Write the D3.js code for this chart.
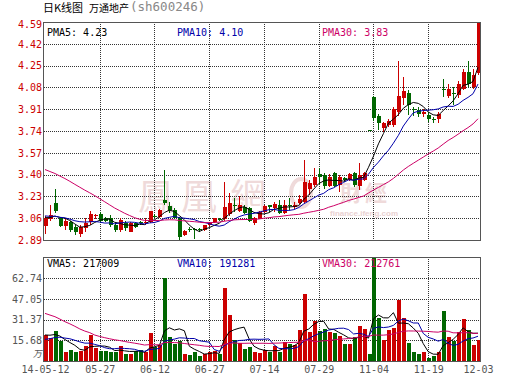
<!DOCTYPE html>
<html><head><meta charset="utf-8">
<script src="https://cdn.jsdelivr.net/npm/d3@7"></script>
<style>body{margin:0;background:#fff}svg{display:block}</style>
</head><body><svg id="c" width="530" height="391"></svg>
<script>
// ---- data ----
const dates = ["05-12","05-13","05-14","05-15","05-16","05-19","05-20","05-21","05-22","05-23","05-26","05-27","05-28","05-29","05-30",
"06-03","06-04","06-05","06-06","06-09","06-10","06-11","06-12","06-13","06-16","06-17","06-18","06-19","06-20","06-23","06-24","06-25","06-26","06-27","06-30",
"07-01","07-02","07-03","07-04","07-07","07-08","07-09","07-10","07-11","07-14","07-15","07-16","07-17","07-18","07-21","07-22","07-23","07-24","07-25","07-28","07-29","07-30","07-31",
"08-01","08-04","08-05","08-06","08-07","08-08","08-11",
"11-03","11-04","11-05","11-06","11-07","11-10","11-11","11-12","11-13","11-14","11-17","11-18","11-19","11-20","11-21","11-24","11-25","11-26","11-27","11-28","12-01","12-02","12-03"];
const open = [3.00,3.055,3.175,3.06,3.00,3.03,2.99,2.94,2.98,3.03,
3.075,3.09,3.06,3.06,3.01,2.97,3.025,2.955,3.02,3.03,
3.02,3.033,3.08,3.072,3.20,3.155,3.125,3.06,2.93,2.975,
2.975,2.975,2.968,3.01,3.033,3.055,3.05,3.09,3.165,3.12,
3.15,3.14,3.02,3.055,3.11,3.16,3.14,3.163,3.10,3.16,
3.145,3.18,3.19,3.285,3.32,3.405,3.40,3.31,3.41,3.32,
3.37,3.36,3.41,3.31,3.36,3.75,4.005,3.86,3.76,3.785,
3.785,3.89,4.00,4.04,3.91,3.90,3.87,3.867,3.835,3.835,
4.07,4.013,4.04,4.02,4.07,4.20,4.085,4.19];
const close = [3.06,3.085,3.115,3.00,3.04,2.97,2.95,2.99,3.02,3.09,
3.085,3.035,3.04,3.01,2.97,3.045,2.98,3.025,2.995,3.02,
3.03,3.116,3.075,3.124,3.176,3.125,3.06,2.915,2.96,2.97,
2.97,2.965,3.007,3.02,3.059,3.05,3.15,3.175,3.16,3.165,
3.10,3.04,3.06,3.11,3.155,3.15,3.17,3.10,3.163,3.155,
3.165,3.207,3.345,3.332,3.385,3.38,3.31,3.385,3.31,3.385,
3.355,3.405,3.32,3.40,3.41,3.75,3.84,3.80,3.80,3.815,
3.91,4.013,4.05,3.94,3.90,3.875,3.89,3.836,3.83,3.875,
4.065,4.07,4.035,4.11,4.20,4.11,4.175,4.59];
const high = [3.08,3.16,3.29,3.07,3.06,3.04,3.01,3.01,3.06,3.12,
3.095,3.11,3.07,3.085,3.025,3.06,3.04,3.03,3.03,3.04,
3.06,3.12,3.095,3.13,3.436,3.19,3.137,3.07,2.97,2.99,
2.985,2.985,3.01,3.03,3.065,3.06,3.345,3.26,3.215,3.235,
3.16,3.15,3.07,3.12,3.16,3.165,3.19,3.20,3.20,3.215,
3.19,3.24,3.51,3.358,3.455,3.45,3.41,3.405,3.42,3.40,
3.38,3.415,3.42,3.493,3.42,3.75,4.01,3.87,3.81,3.83,
3.93,4.283,4.16,4.057,3.93,3.93,3.91,3.89,3.85,3.888,
4.148,4.11,4.08,4.13,4.226,4.283,4.226,4.59];
const low = [2.94,3.04,3.10,2.99,2.97,2.95,2.93,2.91,2.955,3.01,
3.05,3.02,3.03,2.99,2.955,2.955,2.96,2.95,2.98,3.01,
3.01,3.02,3.06,3.06,3.16,3.10,3.05,2.89,2.92,2.95,
2.90,2.95,2.96,3.00,3.02,3.04,3.04,3.08,3.11,3.11,
3.09,3.03,3.01,3.05,3.10,3.11,3.11,3.09,3.09,3.125,
3.13,3.17,3.18,3.24,3.30,3.32,3.285,3.30,3.30,3.265,
3.34,3.35,3.30,3.28,3.35,3.75,3.82,3.745,3.73,3.77,
3.77,3.86,3.94,3.862,3.86,3.85,3.85,3.81,3.805,3.80,
4.005,4.00,3.94,4.00,4.06,4.08,4.07,4.18];
// volume in 万 (10,000) shares
const volume = [19.7,17.2,22.7,15.2,6.6,8.3,6.6,7.6,11.6,19.7,
10.1,7.6,7.6,7.1,7.1,11.6,5.1,5.3,7.3,8.3,
6.6,21.0,10.9,12.4,63.1,18.4,12.6,15.2,5.3,4.5,
7.1,4.0,5.3,7.1,7.6,5.0,55.0,34.9,15.9,13.4,
9.1,10.9,6.6,5.8,8.5,7.1,11.0,7.1,14.1,12.6,
12.1,23.5,50.8,22.2,30.3,22.7,24.2,21.7,21.0,19.2,
12.9,13.0,17.9,26.5,24.0,5.3,86.0,32.3,16.0,23.5,
25.3,46.2,32.8,13.4,7.1,5.3,7.1,2.5,4.0,6.6,
37.9,18.4,15.2,22.2,31.8,23.5,12.1,15.9];
// the 29 sessions before the window (estimated from where the MA lines start)
const prevClose = [3.55,3.57,3.60,3.62,3.63,3.65,3.67,3.70,3.72,3.74,3.75,3.76,3.74,3.70,3.65,3.60,3.55,3.50,3.40,3.30,
3.12,3.10,3.09,3.08,3.07,3.08,3.06,3.05,3.07];
const prevVolume = [55,60,70,65,58,62,68,60,56,64,40,35,32,30,28,27,26,25,28,29,
12,14,13,13,13.5,18,20,21,19.8];
const priceTicks = [2.89,3.06,3.23,3.40,3.57,3.74,3.91,4.08,4.25,4.42,4.59];
const volTicks = [15.68,31.37,47.05,62.74];
const xTickDates = ["05-12","05-27","06-12","06-27","07-14","07-29","11-04","11-19","12-03"];
const xTickLabels = ["14-05-12","05-27","06-12","06-27","07-14","07-29","11-04","11-19","12-03"];
const priceLegend = [["PMA5","4.23"],["PMA10","4.10"],["PMA30","3.83"]];
const volLegend = [["VMA5","217009"],["VMA10","191281"],["VMA30","212761"]];

// ---- drawing ----
const RED = "#cc0000", GREEN = "#006600";
const maColors = ["#000000","#0000aa","#cc0066"];
const MONO = "'DejaVu Sans Mono', 'Liberation Mono', monospace";
const svg = d3.select("#c");
const L = 43.5, R = 480.5;
const P = {top: 22, bottom: 240};
const V = {top: 257.3, bottom: 361};

const n = dates.length;
const x = d3.scalePoint().domain(d3.range(n)).range([45, 478]);
const y = d3.scaleLinear().domain([2.89, 4.59]).range([P.bottom, P.top]);
const yv = d3.scaleLinear().domain([0, 78.55]).range([V.bottom, V.top]);

function movingAvg(vals, prev, k) {
  const all = prev.concat(vals), off = prev.length;
  return vals.map((_, i) => d3.mean(all.slice(off + i - k + 1, off + i + 1)));
}

// title
svg.append("text").attr("x", 43).attr("y", 11.5).attr("font-family", "'Noto Sans CJK SC'")
  .attr("font-size", 11).attr("fill", "#000").attr("textLength", 40).attr("lengthAdjust", "spacingAndGlyphs").text("日K线图");
svg.append("text").attr("x", 89).attr("y", 11.5).attr("font-family", "'Noto Sans CJK SC'")
  .attr("font-size", 10).attr("fill", "#000").text("万通地产");
svg.append("text").attr("x", 130).attr("y", 11).attr("font-family", MONO)
  .attr("font-size", 12.5).attr("fill", "#888").text("(sh600246)");

// watermark
const wm = svg.append("g").attr("fill", "#efdada");
[["鳳",156],["凰",199],["網",248]].forEach(([t, cx]) =>
  wm.append("text").attr("x", cx).attr("y", 210).attr("text-anchor", "middle")
    .attr("font-family", "'Noto Sans CJK TC'").attr("font-size", 36).text(t));
[["財",351],["經",376]].forEach(([t, cx]) =>
  wm.append("text").attr("x", cx).attr("y", 201).attr("text-anchor", "middle")
    .attr("font-family", "'Noto Sans CJK TC'").attr("font-weight", "bold").attr("font-size", 22).text(t));
wm.append("ellipse").attr("cx", 301).attr("cy", 193).attr("rx", 10).attr("ry", 14)
  .attr("fill", "none").attr("stroke", "#efdada").attr("stroke-width", 4);
wm.append("text").attr("x", 330).attr("y", 216).attr("font-family", "Arial, 'Liberation Sans'")
  .attr("font-weight", "bold").attr("font-size", 8).attr("fill", "#ead2d2").text("finance.ifeng.com");

// grids
const grid = svg.append("g").attr("stroke", "#333").attr("stroke-dasharray", "1,1")
  .attr("shape-rendering", "crispEdges");
priceTicks.slice(1, -1).forEach(t => grid.append("line").attr("x1", L).attr("x2", R)
  .attr("y1", Math.round(y(t)) + 0.5).attr("y2", Math.round(y(t)) + 0.5));
volTicks.forEach(t => grid.append("line").attr("x1", L).attr("x2", R)
  .attr("y1", Math.round(yv(t)) + 0.5).attr("y2", Math.round(yv(t)) + 0.5));
xTickDates.slice(1, -1).forEach(d => {
  const xx = Math.round(x(dates.indexOf(d))) + 0.5;
  grid.append("line").attr("x1", xx).attr("x2", xx).attr("y1", P.top).attr("y2", P.bottom);
  grid.append("line").attr("x1", xx).attr("x2", xx).attr("y1", V.top).attr("y2", V.bottom);
});

// clip paths
const defs = svg.append("defs");
defs.append("clipPath").attr("id", "cp").append("rect").attr("x", L).attr("y", P.top - 0.5)
  .attr("width", R - L).attr("height", P.bottom - P.top + 1);
defs.append("clipPath").attr("id", "cv").append("rect").attr("x", L).attr("y", V.top + 0.5)
  .attr("width", R - L).attr("height", V.bottom - V.top);

const idx = d3.range(n);
const col = i => close[i] > open[i] ? RED : GREEN;

// candles
const cg = svg.append("g").attr("clip-path", "url(#cp)").attr("shape-rendering", "crispEdges");
cg.selectAll("line.w").data(idx).join("line")
  .attr("x1", i => Math.round(x(i)) + 0.5).attr("x2", i => Math.round(x(i)) + 0.5)
  .attr("y1", i => y(high[i])).attr("y2", i => y(low[i]))
  .attr("stroke", col);
cg.selectAll("rect").data(idx).join("rect")
  .attr("x", i => Math.round(x(i)) - 1.5).attr("width", 4)
  .attr("y", i => y(Math.max(open[i], close[i])))
  .attr("height", i => Math.max(1, Math.abs(y(open[i]) - y(close[i]))))
  .attr("fill", col);

// price MAs
const pma = [5, 10, 30].map(k => movingAvg(close, prevClose, k));
const lineP = d3.line().x((d, i) => x(i)).y(d => y(d));
const mg = svg.append("g").attr("clip-path", "url(#cp)").attr("fill", "none");
pma.forEach((s, j) => mg.append("path").attr("d", lineP(s)).attr("stroke", maColors[j]).attr("stroke-width", 1));

// volume bars
const vg = svg.append("g").attr("clip-path", "url(#cv)").attr("shape-rendering", "crispEdges");
vg.selectAll("rect").data(idx).join("rect")
  .attr("x", i => Math.round(x(i)) - 1.5).attr("width", 4)
  .attr("y", i => yv(volume[i])).attr("height", i => V.bottom - yv(volume[i]))
  .attr("fill", col);
const vma = [5, 10, 30].map(k => movingAvg(volume, prevVolume, k));
const lineV = d3.line().x((d, i) => x(i)).y(d => yv(d));
const vmg = svg.append("g").attr("clip-path", "url(#cv)").attr("fill", "none");
vma.forEach((s, j) => vmg.append("path").attr("d", lineV(s)).attr("stroke", maColors[j]).attr("stroke-width", 1));

// frames
const fr = svg.append("g").attr("fill", "none").attr("stroke", "#555").attr("shape-rendering", "crispEdges");
fr.append("rect").attr("x", L).attr("y", P.top + 0.5).attr("width", R - L).attr("height", P.bottom - P.top);
fr.append("rect").attr("x", L).attr("y", Math.round(V.top) + 0.5).attr("width", R - L).attr("height", Math.round(V.bottom) - Math.round(V.top));

// axes
const ay = svg.append("g").attr("transform", "translate(42,0)")
  .call(d3.axisLeft(y).tickValues(priceTicks).tickSize(0).tickPadding(0).tickFormat(d3.format(".2f")));
ay.select(".domain").remove();
ay.selectAll("text").attr("fill", RED).attr("font-family", MONO).attr("font-size", 10);
ay.selectAll(".tick").filter(d => d === 4.59).select("text").attr("dy", "0.55em");

const av = svg.append("g").attr("transform", "translate(42,0)")
  .call(d3.axisLeft(yv).tickValues(volTicks).tickSize(0).tickPadding(0).tickFormat(d3.format(".2f")));
av.select(".domain").remove();
av.selectAll("text").attr("fill", "#555").attr("font-family", MONO).attr("font-size", 10);
svg.append("text").attr("x", 38.5).attr("y", 357).attr("text-anchor", "middle")
  .attr("font-family", "'Noto Sans CJK SC'").attr("font-size", 9).attr("fill", "#555")
  .attr("transform", "skewX(-12) translate(75,0)").text("万");

const ax = svg.append("g").attr("transform", `translate(0,${V.bottom})`)
  .call(d3.axisBottom(x).tickValues(xTickDates.map(d => dates.indexOf(d))).tickSize(0).tickPadding(5)
    .tickFormat((d, i) => xTickLabels[i]));
ax.select(".domain").remove();
ax.selectAll("text").attr("fill", "#555").attr("font-family", MONO).attr("font-size", 10);

// legends
const legX = [47, 177, 322];
priceLegend.forEach(([k, v], j) => svg.append("text").attr("x", legX[j]).attr("y", 36)
  .attr("font-family", MONO).attr("font-size", 10).attr("fill", maColors[j]).text(`${k}: ${v}`));
volLegend.forEach(([k, v], j) => svg.append("text").attr("x", legX[j]).attr("y", 266.5)
  .attr("font-family", MONO).attr("font-size", 10).attr("fill", maColors[j]).text(`${k}: ${v}`));
</script></body></html>
